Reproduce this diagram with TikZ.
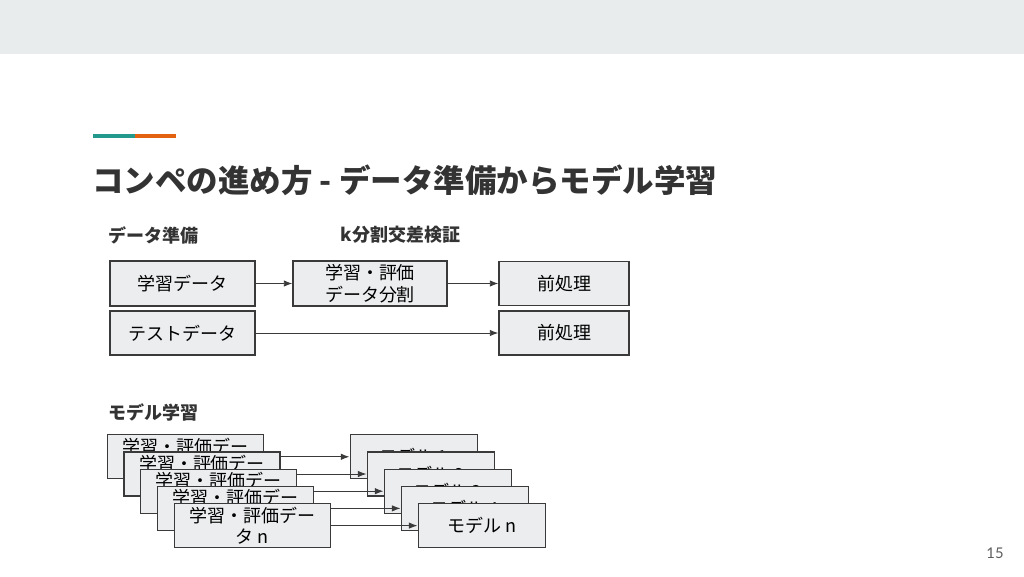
\documentclass[tikz,border=0pt]{standalone}
\usepackage{fontspec}
\setmainfont{Noto Sans CJK JP}
\newfontfamily\numfont{Lato}
\usetikzlibrary{arrows.meta,positioning,calc}
\definecolor{bandgray}{HTML}{E8ECEC}
\definecolor{boxgray}{HTML}{EBEDEE}
\definecolor{linegray}{HTML}{3A3A3A}
\definecolor{titlegray}{HTML}{333333}
\definecolor{accteal}{HTML}{23998B}
\definecolor{accorange}{HTML}{E2620F}

\begin{document}
\begin{tikzpicture}[>=Latex,
 box/.style={draw=linegray,fill=boxgray,line width=0.85pt,align=center,inner sep=1pt,font=\fontsize{12.8}{15.3}\selectfont},
 head/.style={anchor=west,font=\fontsize{12.8}{15}\selectfont\bfseries,text=titlegray},
 link/.style={->,line width=0.7pt,draw=linegray}]
\useasboundingbox(0,0)rectangle(25.6,-14.4);
\fill[bandgray](0,0)rectangle(25.6,-1.35);
\draw[accteal,line width=2.8pt](2.325,-3.39)--(3.375,-3.39);
\draw[accorange,line width=2.8pt](3.375,-3.39)--(4.4,-3.39);
\node[anchor=west,inner sep=0pt,font=\fontsize{22.4}{26}\selectfont\bfseries,text=titlegray](title)at(2.3,-4.5)
 {コンペの進め方 - データ準備からモデル学習};
\node[head](prep)at(2.6,-5.875){データ準備};
\node[head](kfold)at(8.4,-5.875){k分割交差検証};
\node[box,minimum width=3.625cm,minimum height=1.125cm](train)at(4.5625,-7.0875){学習データ};
\node[box,minimum width=3.625cm,minimum height=1.1cm](test)at(4.5625,-8.325){テストデータ};
\node[box,minimum width=3.85cm,minimum height=1.125cm](split)at(9.25,-7.0875){学習・評価\\データ分割};
\node[box,minimum width=3.25cm,minimum height=1.1cm](preA)at(14.1,-7.0875){前処理};
\node[box,minimum width=3.25cm,minimum height=1.1cm](preB)at(14.1,-8.325){前処理};
\draw[link](train)--(split);\draw[link](split)--(preA);\draw[link](test)--(preB);
\node[head](learn)at(2.6,-10.3){モデル学習};
% folds drawn back to front, each one hides the lower part of the last
\foreach \i/\lab in {0/1,1/2,2/3,3/4,4/n}{
 \node[box,minimum width=3.9cm,minimum height=1.1cm](fold\i)at(4.63+0.42*\i,-11.42-0.43*\i)
  {学習・評価デー\\\ifnum\i<4 \phantom{タ \lab}\else タ \lab\fi};
 \node[box,minimum width=3.175cm,minimum height=1.1cm](model\i)at(10.34+0.425*\i,-11.42-0.43*\i){モデル \lab};
 \draw[link](fold\i)--(model\i);
}
\node[anchor=center,text=titlegray!80,font=\numfont\fontsize{10.5}{12}\selectfont](page)at(24.875,-13.825){15};
\end{tikzpicture}
\end{document}
